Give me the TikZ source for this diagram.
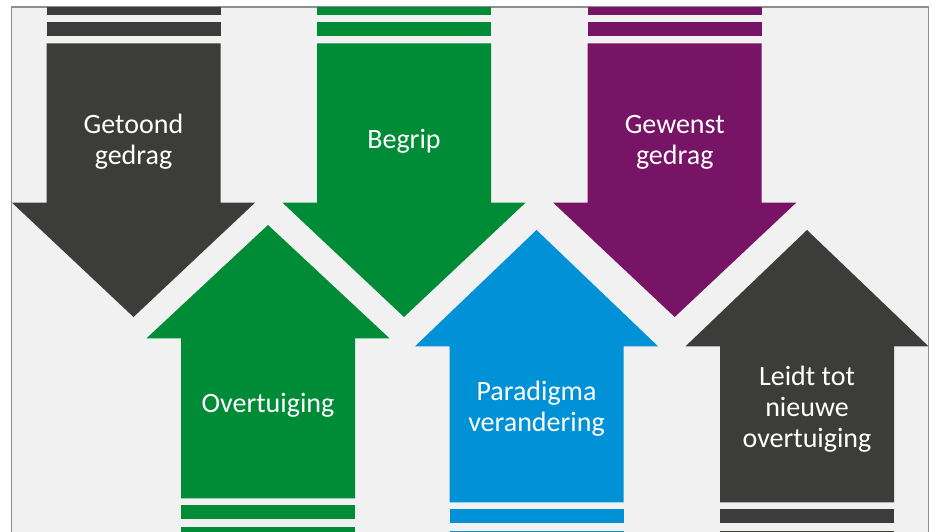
\documentclass[tikz,border=0pt]{standalone}
\usepackage{fontspec}
\setmainfont{Carlito}
\definecolor{bg}{HTML}{F1F1F1}
\definecolor{frm}{HTML}{8E8E8E}
\definecolor{dgray}{HTML}{3C3C3B}
\definecolor{grn}{HTML}{008C37}
\definecolor{prp}{HTML}{771466}
\definecolor{blu}{HTML}{0091D6}
% #1 centre x, #2 colour
\newcommand\DnArrow[2]{%
  \fill[#2] (#1-87,43.3) -- (#1+87,43.3) -- (#1+87,202.7) -- (#1+121.5,202.7) -- (#1,317) -- (#1-121.5,202.7) -- (#1-87,202.7) -- cycle;
  \fill[#2] (#1-87,-5) rectangle (#1+87,14.7);
  \fill[#2] (#1-87,22.3) rectangle (#1+87,36);
}
% #1 centre x, #2 colour, #3 tip y, #4 head base y, #5 shaft bottom y
\newcommand\UpArrow[5]{%
  \fill[#2] (#1,#3) -- (#1+121.5,#4) -- (#1+87,#4) -- (#1+87,#5) -- (#1-87,#5) -- (#1-87,#4) -- (#1-121.5,#4) -- cycle;
  \fill[#2] (#1-87,#5+7) rectangle (#1+87,#5+21);
  \fill[#2] (#1-87,#5+28.4) rectangle (#1+87,560);
}
\tikzset{lbl/.style={text=white, font=\fontsize{28}{31}\selectfont, align=center, inner sep=0pt}}
\begin{document}
\begin{tikzpicture}[x=1pt,y=-1pt]
\useasboundingbox (0,0) rectangle (932,532);
\fill[white] (0,0) rectangle (932,532);
\draw[frm,line width=1.5pt,fill=bg] (11.5,7) rectangle (928.5,560);
\begin{scope}
  \clip (12.25,7.75) rectangle (927.75,560);
  \DnArrow{133.5}{dgray}
  \DnArrow{404}{grn}
  \DnArrow{674.7}{prp}
  \UpArrow{268}{grn}{225}{338.3}{498.3}
  \UpArrow{536.5}{blu}{230}{346.3}{502.3}
  \UpArrow{807}{dgray}{230}{346.3}{502.3}
\end{scope}
\node[lbl] (getoond) at (133.5,142) {Getoond\\gedrag};
\node[lbl] (begrip) at (404,141) {Begrip};
\node[lbl] (gewenst) at (674.7,142) {Gewenst\\gedrag};
\node[lbl] (overtuiging) at (268,405) {Overtuiging};
\node[lbl] (paradigma) at (536.5,409) {Paradigma\\verandering};
\node[lbl] (leidt) at (807,409) {Leidt tot\\nieuwe\\overtuiging};
\end{tikzpicture}
\end{document}
